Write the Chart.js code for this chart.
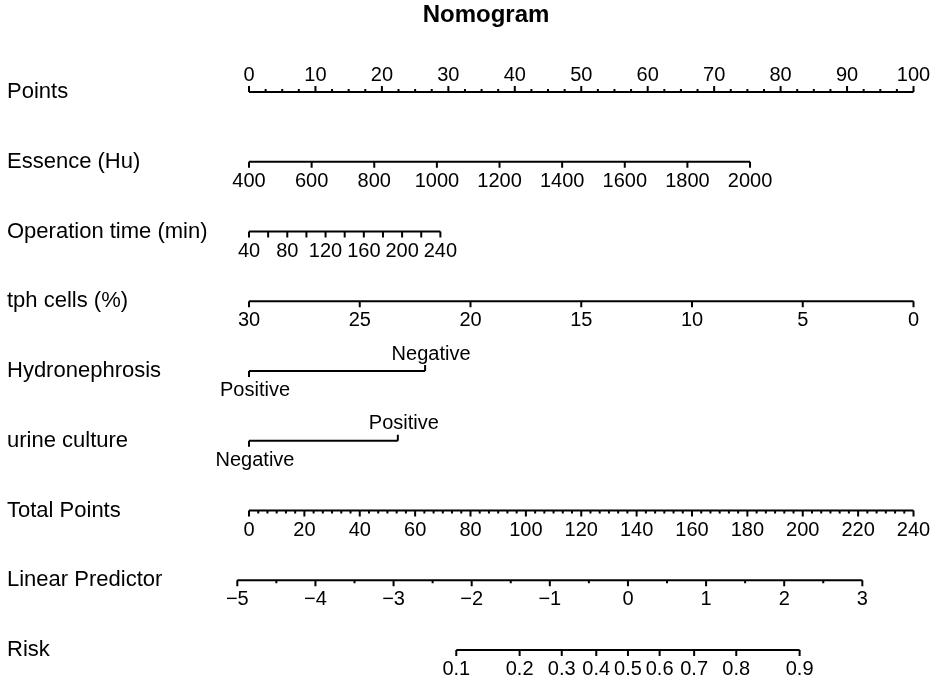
<!DOCTYPE html>
<html>
<head>
<meta charset="utf-8">
<script src="https://cdn.jsdelivr.net/npm/chart.js@4"></script>
<style>
  html, body { margin: 0; padding: 0; background: #fff; }
</style>
</head>
<body>
<canvas id="nomogram" width="935" height="680"></canvas>
<script>
// Data
const chartTitle = 'Nomogram';
const rowNames = ['Points', 'Essence (Hu)', 'Operation time (min)', 'tph cells (%)',
  'Hydronephrosis', 'urine culture', 'Total Points', 'Linear Predictor', 'Risk'];

const pointsTicks = [0, 10, 20, 30, 40, 50, 60, 70, 80, 90, 100];
const essenceTicks = [400, 600, 800, 1000, 1200, 1400, 1600, 1800, 2000];
const essencePoints = [0, 75.4];          // points for 400 and 2000
const opTimeTicks = [40, 60, 80, 100, 120, 140, 160, 180, 200, 220, 240];
const opTimeLabels = [40, 80, 120, 160, 200, 240];
const opTimePoints = [0, 28.8];           // points for 40 and 240
const tphTicks = [30, 25, 20, 15, 10, 5, 0];
const tphPoints = [0, 100];               // points for 30 and 0
const hydroLevels = ['Positive', 'Negative'];
const hydroPoints = [0, 26.5];
const urineLevels = ['Negative', 'Positive'];
const urinePoints = [0, 22.4];
const totalTicks = [0, 20, 40, 60, 80, 100, 120, 140, 160, 180, 200, 220, 240];
const lpTicks = [-5, -4, -3, -2, -1, 0, 1, 2, 3];
const lpPoints = [-1.76, 92.3];           // points for LP -5 and 3
const riskTicks = [0.1, 0.2, 0.3, 0.4, 0.5, 0.6, 0.7, 0.8, 0.9];

// minor tick steps
const pointsMinorStep = 2.5;
const totalMinorStep = 20 / 6;
const lpMinorStep = 0.5;

function lin(v, v0, v1, p0, p1) {
  return p0 + (v - v0) * (p1 - p0) / (v1 - v0);
}
function minors(from, to, step) {
  const out = [];
  for (let v = from; v <= to + 1e-9; v += step) out.push(v);
  return out;
}
const fmtMinus = v => String(v).replace('-', '\u2212');
const lpToPts = lp => lin(lp, lpTicks[0], lpTicks[lpTicks.length - 1], lpPoints[0], lpPoints[1]);
const totalToPts = t => lin(t, 0, totalTicks[totalTicks.length - 1], 0, 100);

// build axes (ticks in Points units)
const axes = [
  { row: 0, ticks: minors(0, 100, pointsMinorStep).map(v => ({
      pos: v, up: true, minor: !pointsTicks.includes(v), label: pointsTicks.includes(v) ? String(v) : null })) },
  { row: 1, ticks: essenceTicks.map(v => ({
      pos: lin(v, 400, 2000, essencePoints[0], essencePoints[1]), label: String(v) })) },
  { row: 2, ticks: opTimeTicks.map(v => ({
      pos: lin(v, 40, 240, opTimePoints[0], opTimePoints[1]),
      label: opTimeLabels.includes(v) ? String(v) : null })) },
  { row: 3, ticks: tphTicks.map(v => ({
      pos: lin(v, 30, 0, tphPoints[0], tphPoints[1]), label: String(v) })) },
  { row: 4, ticks: hydroLevels.map((l, i) => ({ pos: hydroPoints[i], label: l, up: i % 2 === 1, dx: 6 })) },
  { row: 5, ticks: urineLevels.map((l, i) => ({ pos: urinePoints[i], label: l, up: i % 2 === 1, dx: 6 })) },
  { row: 6, ticks: minors(0, 240, totalMinorStep).map(v => {
      const major = totalTicks.some(t => Math.abs(t - v) < 1e-6);
      return { pos: totalToPts(v), minor: !major, label: major ? String(Math.round(v)) : null };
    }) },
  { row: 7, ticks: minors(-5, 3, lpMinorStep).map(v => ({
      pos: lpToPts(v), minor: !lpTicks.includes(v), label: lpTicks.includes(v) ? fmtMinus(v) : null })) },
  { row: 8, ticks: riskTicks.map(p => ({
      pos: lpToPts(Math.log(p / (1 - p))), label: String(p) })) }
];

const FONT = '"Liberation Sans", Arial, Helvetica, sans-serif';

const nomogramPlugin = {
  id: 'nomogramAxes',
  afterDatasetsDraw(chart) {
    const ctx = chart.ctx;
    const xs = chart.scales.x;
    const ys = chart.scales.y;
    ctx.save();
    ctx.fillStyle = '#000';
    ctx.strokeStyle = '#000';
    ctx.textBaseline = 'middle';

    ctx.font = 'bold 24px ' + FONT;
    ctx.textAlign = 'center';
    ctx.fillText(chartTitle, 486, 15);

    ctx.font = '22px ' + FONT;
    ctx.textAlign = 'left';
    rowNames.forEach((n, i) => ctx.fillText(n, 7, ys.getPixelForValue(i)));

    ctx.font = '20px ' + FONT;
    ctx.textAlign = 'center';
    ctx.lineWidth = 2;
    axes.forEach(a => {
      const y = ys.getPixelForValue(a.row);
      a.ticks.forEach(t => {
        const x = xs.getPixelForValue(t.pos);
        const dir = t.up ? -1 : 1;
        const len = t.minor ? 3 : 6;
        ctx.beginPath();
        ctx.moveTo(x, y);
        ctx.lineTo(x, y + dir * len);
        ctx.stroke();
        if (t.label !== null && t.label !== undefined) {
          ctx.fillText(t.label, x + (t.dx || 0), y + (t.up ? -17 : 19.5));
        }
      });
    });
    ctx.restore();
  }
};

const lineSets = axes.map(a => {
  const ps = a.ticks.map(t => t.pos);
  return {
    data: [{ x: Math.min(...ps), y: a.row }, { x: Math.max(...ps), y: a.row }],
    showLine: true,
    borderColor: '#000',
    borderWidth: 2,
    pointRadius: 0,
    fill: false
  };
});

new Chart(document.getElementById('nomogram').getContext('2d'), {
  type: 'scatter',
  data: { datasets: lineSets },
  options: {
    responsive: false,
    animation: false,
    layout: { padding: 0 },
    plugins: {
      legend: { display: false },
      title: { display: false },
      tooltip: { enabled: false }
    },
    scales: {
      x: { type: 'linear', display: false, min: -249 / 6.645, max: (935 - 249) / 6.645 },
      y: { type: 'linear', display: false, reverse: true, min: -92 / 69.75, max: (680 - 92) / 69.75 }
    }
  },
  plugins: [nomogramPlugin]
});
</script>
</body>
</html>
